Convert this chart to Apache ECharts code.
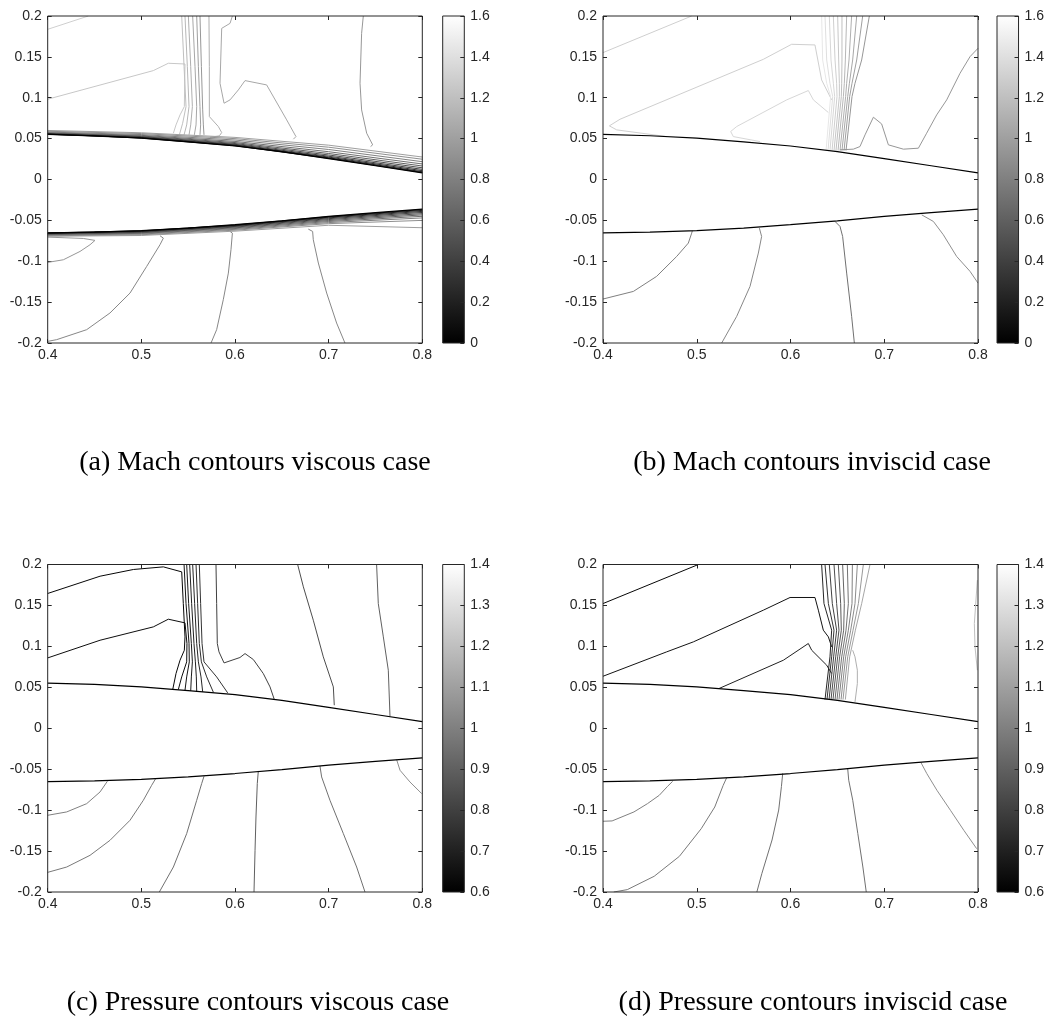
<!DOCTYPE html>
<html><head><meta charset="utf-8">
<script src="https://cdn.jsdelivr.net/npm/echarts@6/dist/echarts.min.js"></script>
<style>html,body{margin:0;padding:0;background:#fff}#c{width:1047px;height:1025px}</style>
</head><body><div id="c"></div>
<script>
// ---------------- DATA ----------------
const captions = ['(a) Mach contours viscous case', '(b) Mach contours inviscid case',
                  '(c) Pressure contours viscous case', '(d) Pressure contours inviscid case'];
const xRange = [0.4, 0.8], xStep = 0.1;
const yRange = [-0.2, 0.2], yStep = 0.05;
const machRange = [0, 1.6], machStep = 0.2;
const pressureRange = [0.6, 1.4], pressureStep = 0.1;

// airfoil outline
const airfoilX = [0.4, 0.45, 0.5, 0.55, 0.6, 0.65, 0.7, 0.75, 0.8];
const airfoilUpperY = [0.0552, 0.0535, 0.0505, 0.0460, 0.0410, 0.0340, 0.0255, 0.0168, 0.0080];
const airfoilLowerY = [-0.0652, -0.0643, -0.0625, -0.0595, -0.0553, -0.0505, -0.0450, -0.0405, -0.0363];

// boundary-layer Mach contours (viscous), y at stations
const blStationsX = [0.4, 0.5, 0.6, 0.7, 0.8];
const machViscousBLUpper = [
  {level: 0.1, y: [0.0553, 0.0507, 0.0413, 0.0259, 0.0086]},
  {level: 0.2, y: [0.0555, 0.0510, 0.0417, 0.0265, 0.0095]},
  {level: 0.3, y: [0.0557, 0.0514, 0.0423, 0.0274, 0.0108]},
  {level: 0.4, y: [0.0560, 0.0519, 0.0430, 0.0285, 0.0124]},
  {level: 0.5, y: [0.0563, 0.0525, 0.0440, 0.0300, 0.0143]},
  {level: 0.6, y: [0.0567, 0.0532, 0.0452, 0.0318, 0.0165]},
  {level: 0.7, y: [0.0572, 0.0540, 0.0466, 0.0340, 0.0190]},
  {level: 0.8, y: [0.0580, 0.0550, 0.0483, 0.0367, 0.0218]},
  {level: 0.9, y: [0.0590, 0.0562, 0.0500, 0.0395, 0.0248]},
  {level: 1.0, y: [0.0600, 0.0572, 0.0515, 0.0420, 0.0275]}
];
const machViscousBLLower = [
  {level: 0.1, y: [-0.0654, -0.0628, -0.0557, -0.0455, -0.0368]},
  {level: 0.2, y: [-0.0656, -0.0631, -0.0561, -0.0461, -0.0378]},
  {level: 0.3, y: [-0.0659, -0.0635, -0.0567, -0.0469, -0.0390]},
  {level: 0.4, y: [-0.0662, -0.0640, -0.0574, -0.0479, -0.0403]},
  {level: 0.5, y: [-0.0666, -0.0646, -0.0582, -0.0490, -0.0418]},
  {level: 0.6, y: [-0.0670, -0.0652, -0.0591, -0.0502, -0.0433]},
  {level: 0.7, y: [-0.0675, -0.0659, -0.0600, -0.0514, -0.0450]},
  {level: 0.8, y: [-0.0681, -0.0667, -0.0610, -0.0527, -0.0470]},
  {level: 0.9, y: [-0.0688, -0.0676, -0.0620, -0.0540, -0.0500]},
  {level: 1.0, y: [-0.0695, -0.0685, -0.0632, -0.0560, -0.0590]}
];

// (a) Mach viscous outer contours
const machViscousLines = [
  {level: 1.3, pts: [[0.4, 0.1837], [0.4434, 0.2]]},
  {level: 1.25, pts: [[0.4, 0.0982], [0.5128, 0.1332], [0.5288, 0.1422], [0.5466, 0.1413], [0.5459, 0.0892], [0.5413, 0.079], [0.537, 0.0668], [0.5342, 0.0566]]},
  {level: 1.2, pts: [[0.5431, 0.2], [0.5456, 0.1381], [0.5477, 0.0892], [0.5441, 0.0688], [0.5406, 0.0546]]},
  {level: 1.15, pts: [[0.5466, 0.2], [0.5491, 0.1381], [0.5509, 0.0892], [0.5484, 0.0668], [0.5456, 0.0546]]},
  {level: 1.1, pts: [[0.5502, 0.2], [0.5527, 0.1381], [0.5545, 0.0892], [0.5527, 0.0668], [0.5509, 0.0546]]},
  {level: 1.05, pts: [[0.5548, 0.2], [0.5573, 0.1381], [0.5591, 0.0892], [0.5584, 0.0668], [0.5566, 0.0546]]},
  {level: 1.0, pts: [[0.5591, 0.2], [0.5609, 0.1381], [0.5626, 0.0892], [0.5633, 0.0668], [0.5626, 0.0546]]},
  {level: 0.95, pts: [[0.5626, 0.2], [0.5641, 0.1381], [0.5655, 0.0851], [0.5662, 0.0668], [0.5669, 0.0546]]},
  {level: 1.1, pts: [[0.5722, 0.2], [0.5726, 0.1381], [0.5726, 0.077], [0.5822, 0.0648], [0.5858, 0.0574], [0.5833, 0.0534], [0.5733, 0.0517]]},
  {level: 1.05, pts: [[0.5972, 0.2], [0.5947, 0.191], [0.5858, 0.1849], [0.584, 0.1177], [0.5883, 0.0933], [0.5947, 0.0974], [0.6036, 0.1096], [0.6107, 0.121], [0.6338, 0.1157], [0.6552, 0.0729], [0.6651, 0.0525], [0.6623, 0.0493]]},
  {level: 0.95, pts: [[0.737, 0.2], [0.7352, 0.1788], [0.7335, 0.1177], [0.7352, 0.0851], [0.7406, 0.0566], [0.747, 0.0424], [0.7448, 0.0403]]},
  {level: 0.95, pts: [[0.4, -0.1014], [0.4167, -0.0982], [0.4345, -0.088], [0.4452, -0.0798], [0.4505, -0.0745], [0.438, -0.0721], [0.4, -0.0705]]},
  {level: 0.85, pts: [[0.4, -0.198], [0.4096, -0.1959], [0.4416, -0.1837], [0.4665, -0.1633], [0.4879, -0.1389], [0.5057, -0.1063], [0.5199, -0.0798], [0.5235, -0.0717], [0.5199, -0.0688]]},
  {level: 0.85, pts: [[0.5744, -0.2], [0.5804, -0.1837], [0.5875, -0.147], [0.5929, -0.1145], [0.5957, -0.0859], [0.5972, -0.0656], [0.5947, -0.0635]]},
  {level: 0.85, pts: [[0.7174, -0.2], [0.7085, -0.1756], [0.6979, -0.1389], [0.689, -0.1022], [0.6836, -0.0737], [0.6829, -0.0635], [0.6783, -0.0607]]}
];

// (b) Mach inviscid contours
const machInviscidLines = [
  {level: 1.3, pts: [[0.4, 0.1552], [0.4946, 0.2]]},
  {level: 1.3, pts: [[0.4679, 0.0525], [0.4146, 0.0607], [0.4068, 0.0656], [0.4181, 0.0737], [0.571, 0.147], [0.6012, 0.1654], [0.6261, 0.1646], [0.6332, 0.1218], [0.6439, 0.0974]]},
  {level: 1.35, pts: [[0.5675, 0.0464], [0.539, 0.0525], [0.5362, 0.0587], [0.5426, 0.0648], [0.5959, 0.0974], [0.619, 0.1088], [0.6244, 0.0974], [0.6404, 0.0819]]},
  {level: 1.45, pts: [[0.6332, 0.2], [0.6343, 0.1462], [0.6386, 0.1177], [0.6428, 0.1014], [0.6379, 0.0354]]},
  {level: 1.4, pts: [[0.6368, 0.2], [0.6386, 0.1462], [0.6421, 0.1177], [0.645, 0.1014], [0.64, 0.0354]]},
  {level: 1.35, pts: [[0.6414, 0.2], [0.6432, 0.1462], [0.6457, 0.1177], [0.6471, 0.1014], [0.6421, 0.0354]]},
  {level: 1.3, pts: [[0.6457, 0.2], [0.6475, 0.1462], [0.6492, 0.1177], [0.6496, 0.1014], [0.6443, 0.0354]]},
  {level: 1.25, pts: [[0.6503, 0.2], [0.6514, 0.1462], [0.6521, 0.1177], [0.6521, 0.1014], [0.6464, 0.0354]]},
  {level: 1.2, pts: [[0.6549, 0.2], [0.6549, 0.1462], [0.6546, 0.1177], [0.6542, 0.1014], [0.6485, 0.0354]]},
  {level: 1.15, pts: [[0.6599, 0.2], [0.6585, 0.1462], [0.6574, 0.1177], [0.6564, 0.1014], [0.6507, 0.0354]]},
  {level: 1.1, pts: [[0.6652, 0.2], [0.6624, 0.1462], [0.6599, 0.1177], [0.6588, 0.1014], [0.6528, 0.0354]]},
  {level: 1.05, pts: [[0.6706, 0.2], [0.6663, 0.1462], [0.6628, 0.1177], [0.661, 0.1014], [0.6549, 0.0354]]},
  {level: 1.0, pts: [[0.677, 0.2], [0.6706, 0.1462], [0.6656, 0.1177], [0.6631, 0.1014], [0.6571, 0.0354]]},
  {level: 0.95, pts: [[0.6841, 0.2], [0.6759, 0.1462], [0.6688, 0.1177], [0.6656, 0.1014], [0.6592, 0.0354]]},
  {level: 0.95, pts: [[0.6528, 0.0363], [0.667, 0.0371], [0.6741, 0.0403], [0.6795, 0.0546], [0.6884, 0.0762], [0.6972, 0.068], [0.7044, 0.0424], [0.7204, 0.0371], [0.7364, 0.0383], [0.7452, 0.0566], [0.7559, 0.079], [0.7666, 0.0974], [0.7808, 0.1299], [0.7915, 0.1503], [0.8, 0.1605]]},
  {level: 0.8, pts: [[0.4, -0.1462], [0.4324, -0.1369], [0.4572, -0.1185], [0.4786, -0.0941], [0.491, -0.0778], [0.4946, -0.0656], [0.4953, -0.0627]]},
  {level: 0.85, pts: [[0.5266, -0.2], [0.5426, -0.1674], [0.5568, -0.1308], [0.5657, -0.09], [0.5692, -0.0697], [0.5668, -0.0595]]},
  {level: 0.7, pts: [[0.6681, -0.2], [0.6652, -0.1674], [0.6599, -0.1145], [0.6556, -0.0697], [0.6528, -0.0574], [0.6475, -0.0513]]},
  {level: 0.9, pts: [[0.7399, -0.0432], [0.7524, -0.0513], [0.763, -0.0676], [0.7772, -0.0941], [0.7915, -0.1124], [0.8, -0.1267]]}
];

// (c) Pressure viscous contours
const pressureViscousLines = [
  {level: 0.62, pts: [[0.4, 0.1646], [0.4559, 0.1857], [0.4915, 0.1939], [0.5235, 0.1971], [0.5431, 0.191], [0.5448, 0.1523], [0.5466, 0.1116], [0.5459, 0.0953], [0.5413, 0.0831], [0.537, 0.0668], [0.5335, 0.0473]]},
  {level: 0.64, pts: [[0.4, 0.0859], [0.4559, 0.1075], [0.5128, 0.1238], [0.5288, 0.1332], [0.5466, 0.1287], [0.5487, 0.1035], [0.5484, 0.0811], [0.5431, 0.0627], [0.5395, 0.0473]]},
  {level: 0.66, pts: [[0.5456, 0.2], [0.5477, 0.1523], [0.5509, 0.1035], [0.5512, 0.0811], [0.5484, 0.0627], [0.5466, 0.0464]]},
  {level: 0.68, pts: [[0.5484, 0.2], [0.5505, 0.1523], [0.5534, 0.1035], [0.5545, 0.0811], [0.5534, 0.0627], [0.5527, 0.0456]]},
  {level: 0.70, pts: [[0.5516, 0.2], [0.5537, 0.1523], [0.5562, 0.1035], [0.5577, 0.0811], [0.5587, 0.0627], [0.5591, 0.0452]]},
  {level: 0.72, pts: [[0.5548, 0.2], [0.5569, 0.1523], [0.5591, 0.1035], [0.5609, 0.0811], [0.5637, 0.0627], [0.5655, 0.0444]]},
  {level: 0.74, pts: [[0.5584, 0.2], [0.5601, 0.1523], [0.5619, 0.1035], [0.5641, 0.0811], [0.5698, 0.0627], [0.5769, 0.044]]},
  {level: 0.76, pts: [[0.5619, 0.2], [0.5633, 0.1523], [0.5648, 0.1035], [0.5669, 0.0811], [0.5804, 0.0627], [0.5922, 0.0432]]},
  {level: 0.80, pts: [[0.5797, 0.2], [0.5804, 0.1523], [0.5811, 0.1035], [0.5829, 0.0933], [0.5883, 0.0798], [0.6053, 0.0864], [0.6107, 0.0912], [0.6196, 0.0839], [0.6302, 0.0668], [0.6374, 0.0505], [0.642, 0.035]]},
  {level: 0.84, pts: [[0.6669, 0.2], [0.673, 0.1727], [0.6836, 0.132], [0.6943, 0.0872], [0.705, 0.0505], [0.706, 0.0281]]},
  {level: 0.9, pts: [[0.7512, 0.2], [0.753, 0.1523], [0.7584, 0.1116], [0.7637, 0.0709], [0.7655, 0.0147]]},
  {level: 1.0, pts: [[0.4, -0.1063], [0.4203, -0.1022], [0.4416, -0.0921], [0.4559, -0.0778], [0.4637, -0.0648]]},
  {level: 0.98, pts: [[0.4, -0.176], [0.4203, -0.1695], [0.4452, -0.1552], [0.4665, -0.1369], [0.4879, -0.1124], [0.5021, -0.088], [0.511, -0.0697], [0.5153, -0.0615]]},
  {level: 0.95, pts: [[0.5192, -0.2], [0.5342, -0.1695], [0.5484, -0.1287], [0.5591, -0.088], [0.5644, -0.0676], [0.5669, -0.0587]]},
  {level: 0.9, pts: [[0.6203, -0.2], [0.6214, -0.1491], [0.6224, -0.1084], [0.6238, -0.0676], [0.6249, -0.0521]]},
  {level: 0.95, pts: [[0.7388, -0.2], [0.7299, -0.1695], [0.7157, -0.1287], [0.7014, -0.088], [0.6925, -0.0595], [0.6907, -0.046]]},
  {level: 1.05, pts: [[0.7726, -0.0383], [0.7762, -0.0513], [0.7868, -0.0656], [0.7993, -0.0798]]}
];

// (d) Pressure inviscid contours
const pressureInviscidLines = [
  {level: 0.62, pts: [[0.4, 0.1523], [0.5017, 0.2]]},
  {level: 0.66, pts: [[0.4, 0.0635], [0.4679, 0.0933], [0.4964, 0.1055], [0.571, 0.1442], [0.5995, 0.1597], [0.6261, 0.1597], [0.6297, 0.1442], [0.635, 0.1198], [0.6404, 0.1116], [0.6439, 0.0994]]},
  {level: 0.70, pts: [[0.5237, 0.0485], [0.5924, 0.0831], [0.619, 0.1035], [0.6226, 0.0953], [0.6386, 0.077], [0.6439, 0.0668]]},
  {level: 0.72, pts: [[0.6332, 0.2], [0.6357, 0.1523], [0.6439, 0.1198], [0.6421, 0.0872], [0.6368, 0.035]]},
  {level: 0.76, pts: [[0.6368, 0.2], [0.6404, 0.1523], [0.6464, 0.1198], [0.6439, 0.0872], [0.6389, 0.035]]},
  {level: 0.80, pts: [[0.6414, 0.2], [0.6446, 0.1523], [0.6492, 0.1198], [0.646, 0.0872], [0.6411, 0.035]]},
  {level: 0.84, pts: [[0.6464, 0.2], [0.6492, 0.1523], [0.6517, 0.1198], [0.6482, 0.0872], [0.6432, 0.035]]},
  {level: 0.88, pts: [[0.651, 0.2], [0.6535, 0.1523], [0.6542, 0.1198], [0.6503, 0.0872], [0.6453, 0.035]]},
  {level: 0.92, pts: [[0.6556, 0.2], [0.6574, 0.1523], [0.6567, 0.1198], [0.6524, 0.0872], [0.6475, 0.035]]},
  {level: 0.96, pts: [[0.6606, 0.2], [0.6617, 0.1523], [0.6592, 0.1198], [0.6546, 0.0872], [0.6496, 0.035]]},
  {level: 1.00, pts: [[0.666, 0.2], [0.6656, 0.1523], [0.6617, 0.1198], [0.6567, 0.0872], [0.6517, 0.035]]},
  {level: 1.04, pts: [[0.6713, 0.2], [0.6688, 0.1523], [0.6642, 0.1198], [0.6588, 0.0872], [0.6539, 0.035]]},
  {level: 1.08, pts: [[0.6777, 0.2], [0.6724, 0.1523], [0.6667, 0.1198], [0.661, 0.0872], [0.656, 0.035]]},
  {level: 1.12, pts: [[0.6848, 0.2], [0.6759, 0.1523], [0.6692, 0.1198], [0.6631, 0.0872], [0.6585, 0.035]]},
  {level: 1.15, pts: [[0.6688, 0.0322], [0.6713, 0.0546], [0.6713, 0.0709], [0.6688, 0.0872], [0.6663, 0.0953]]},
  {level: 1.2, pts: [[0.7993, 0.1809], [0.7961, 0.1279], [0.7968, 0.0994], [0.7993, 0.0709]]},
  {level: 1.0, pts: [[0.4, -0.1136], [0.4097, -0.1132], [0.433, -0.1022], [0.4474, -0.0921], [0.46, -0.0819], [0.4689, -0.0709], [0.4743, -0.0648]]},
  {level: 0.98, pts: [[0.4115, -0.2], [0.4259, -0.1971], [0.4546, -0.1808], [0.4815, -0.1564], [0.5048, -0.1226], [0.5192, -0.0962], [0.5282, -0.0697], [0.5318, -0.0607]]},
  {level: 0.95, pts: [[0.5641, -0.2], [0.5695, -0.1772], [0.5803, -0.1365], [0.5874, -0.0999], [0.5903, -0.0713], [0.5917, -0.055]]},
  {level: 0.95, pts: [[0.6808, -0.2], [0.6772, -0.1695], [0.6718, -0.1287], [0.6664, -0.088], [0.6621, -0.0635], [0.661, -0.0493]]},
  {level: 1.05, pts: [[0.739, -0.0416], [0.7454, -0.0554], [0.7562, -0.0758], [0.7706, -0.1002], [0.7849, -0.1247], [0.7986, -0.1471]]}
];

// ---------------- LAYOUT / STYLE ----------------
const AXC = '#262626';
const FONT = '"Liberation Sans", Arial, sans-serif';
const panels = [
  {left: 47.7, top: 16, w: 374.6, h: 327, cbLeft: 442.7, cbW: 21.6, range: machRange, step: machStep, capX: 255, capY: 463},
  {left: 603, top: 16, w: 375, h: 327, cbLeft: 997, cbW: 23, range: machRange, step: machStep, capX: 812, capY: 463},
  {left: 47.7, top: 564.5, w: 374.6, h: 327.5, cbLeft: 442.7, cbW: 21.6, range: pressureRange, step: pressureStep, capX: 258, capY: 1003},
  {left: 603, top: 564.5, w: 375, h: 327.5, cbLeft: 997, cbW: 23, range: pressureRange, step: pressureStep, capX: 813, capY: 1003}
];
const panelLines = [machViscousLines, machInviscidLines, pressureViscousLines, pressureInviscidLines];

function gray(level, range) {
  const t = Math.max(0, Math.min(1, (level - range[0]) / (range[1] - range[0])));
  const v = Math.round(t * 255);
  return 'rgb(' + v + ',' + v + ',' + v + ')';
}

const grids = [], xAxes = [], yAxes = [], series = [], graphics = [];
const tickStyle = {inside: true, length: 4, lineStyle: {color: AXC, width: 1}};
const labelStyle = {color: AXC, fontSize: 14, fontFamily: FONT};
const noLine = {show: false, onZero: false};

panels.forEach((p, i) => {
  const g = grids.length;
  grids.push({left: p.left, top: p.top, width: p.w, height: p.h, show: true,
              borderColor: AXC, borderWidth: 1, backgroundColor: 'transparent', z: 5});
  grids.push({left: p.cbLeft, top: p.top, width: p.cbW, height: p.h, show: true,
              borderColor: AXC, borderWidth: 1,
              backgroundColor: new echarts.graphic.LinearGradient(0, 1, 0, 0,
                [{offset: 0, color: '#000'}, {offset: 1, color: '#fff'}])});
  const xb = {type: 'value', min: xRange[0], max: xRange[1], interval: xStep,
              axisLine: noLine, splitLine: {show: false}, axisTick: tickStyle};
  xAxes.push(Object.assign({}, xb, {gridIndex: g, position: 'bottom',
              axisLabel: Object.assign({}, labelStyle, {margin: 5})}));
  xAxes.push(Object.assign({}, xb, {gridIndex: g, position: 'top', axisLabel: {show: false}}));
  xAxes.push({gridIndex: g + 1, type: 'value', min: 0, max: 1, show: false, axisLine: noLine});
  const yb = {type: 'value', min: yRange[0], max: yRange[1], interval: yStep,
              axisLine: noLine, splitLine: {show: false}, axisTick: tickStyle};
  yAxes.push(Object.assign({}, yb, {gridIndex: g, position: 'left',
              axisLabel: Object.assign({}, labelStyle, {margin: 6})}));
  yAxes.push(Object.assign({}, yb, {gridIndex: g, position: 'right', axisLabel: {show: false}}));
  yAxes.push({gridIndex: g + 1, type: 'value', min: p.range[0], max: p.range[1], interval: p.step,
              position: 'right', axisLine: noLine, splitLine: {show: false},
              axisTick: tickStyle, axisLabel: Object.assign({}, labelStyle, {margin: 6})});

  const xi = 3 * i, yi = 3 * i;
  const mk = (data, color, width, z) => ({
    type: 'line', xAxisIndex: xi, yAxisIndex: yi, data: data, showSymbol: false, symbol: 'none',
    silent: true, animation: false, clip: true, z: z,
    lineStyle: {color: color, width: width}
  });
  if (i === 0) {
    const bl = machViscousBLUpper.concat(machViscousBLLower).slice().sort((a, b) => b.level - a.level);
    bl.forEach(l => series.push(mk(blStationsX.map((x, k) => [x, l.y[k]]), gray(l.level, p.range), 1, 3)));
  }
  panelLines[i].forEach(l => series.push(mk(l.pts, gray(l.level, p.range), 1, 2)));
  series.push(mk(airfoilX.map((x, k) => [x, airfoilUpperY[k]]), '#000', 1.2, 4));
  series.push(mk(airfoilX.map((x, k) => [x, airfoilLowerY[k]]), '#000', 1.2, 4));

  graphics.push({type: 'text', x: p.capX, y: p.capY,
    style: {text: captions[i], font: '28px "Liberation Serif", serif', fill: '#000',
            textAlign: 'center', textVerticalAlign: 'middle', align: 'center', verticalAlign: 'middle'}});
});

const chart = echarts.init(document.getElementById('c'), null, {renderer: 'canvas'});
chart.setOption({
  animation: false,
  backgroundColor: '#fff',
  grid: grids, xAxis: xAxes, yAxis: yAxes, series: series, graphic: graphics
});
</script></body></html>
